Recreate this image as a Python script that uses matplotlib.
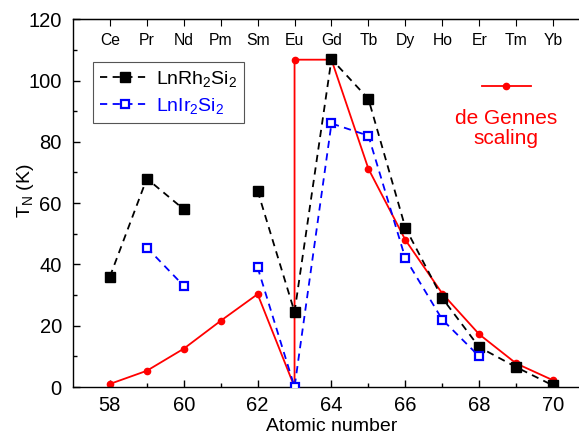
import numpy as np
import matplotlib
matplotlib.use("Agg")
import matplotlib.pyplot as plt

plt.rcParams['font.family'] = ['Liberation Sans', 'DejaVu Sans']
plt.rcParams['mathtext.fontset'] = 'custom'
plt.rcParams['mathtext.rm'] = 'Liberation Sans'
plt.rcParams['mathtext.it'] = 'Liberation Sans'

# atomic numbers and element symbols along the top
z = np.arange(58, 71)
elements = ['Ce', 'Pr', 'Nd', 'Pm', 'Sm', 'Eu', 'Gd', 'Tb', 'Dy', 'Ho', 'Er', 'Tm', 'Yb']

# Neel temperatures (K); nan where there is no compound
tn_rh = [36, 68, 58, np.nan, 64, 24.5, 107, 94, 52, 29, 13, 6.5, 0.5]
tn_ir = [np.nan, 45.5, 33, np.nan, 39, 0, 86, 82, 42, 22, 10, np.nan, np.nan]

# de Gennes scaling, Eu has two values (0 and the Gd-normalised one)
dg_z = [58, 59, 60, 61, 62, 63, 63, 64, 65, 66, 67, 68, 69, 70]
dg_t = [1.0, 5.3, 12.5, 21.6, 30.3, 0, 106.8, 106.8, 71.2, 48, 30.5, 17.2, 7.7, 2.2]

fig = plt.figure(figsize=(5.79, 4.41), dpi=100)
ax = fig.add_axes([0.126, 0.1224, 0.893, 0.834])

red_line, = ax.plot(dg_z, dg_t, '-', color='#ff0000', lw=1.3, marker='o',
                    ms=4.5, zorder=2)
rh_line, = ax.plot(z, tn_rh, '--', color='black', lw=1.3, marker='s', ms=7,
                   dashes=(4, 3), zorder=3, label='LnRh$_2$Si$_2$')
ir_line, = ax.plot(z, tn_ir, '--', color='#0000ff', lw=1.3, marker='s', ms=6,
                   mfc='white', mew=1.6, dashes=(4, 3), zorder=3,
                   label='LnIr$_2$Si$_2$')

ax.set_xlim(57, 71)
ax.set_ylim(0, 120)
ax.set_xticks(np.arange(58, 71, 2))
ax.set_xticks(np.arange(59, 71, 2), minor=True)
ax.set_yticks(np.arange(0, 121, 20))
ax.set_yticks(np.arange(10, 120, 20), minor=True)
ax.tick_params(which='both', direction='in', labelsize=14.5, width=1)
ax.tick_params(which='major', length=5)
ax.tick_params(which='minor', length=3)
ax.tick_params(axis='x', pad=6.5)
ax.tick_params(axis='y', pad=8)
for s in ax.spines.values():
    s.set_linewidth(1)

ax.set_xlabel('Atomic number', fontsize=14, labelpad=2)
ax.set_ylabel('T$_N$ (K)', fontsize=14)
ax.yaxis.set_label_coords(-0.072, 0.535)

# element symbols inside the top edge
top = ax.secondary_xaxis('top')
top.set_xticks(z)
top.set_xticklabels(elements)
top.tick_params(direction='in', length=5, pad=-21, labelsize=11.3)

leg = ax.legend(handles=[rh_line, ir_line], loc='upper left',
                bbox_to_anchor=(0.0387, 0.883), borderaxespad=0,
                fontsize=14, handlelength=2.6, handletextpad=0.3,
                borderpad=0.35, labelspacing=0.35,
                fancybox=False, edgecolor='#555555', framealpha=1)
leg.get_frame().set_linewidth(0.8)
for t, c in zip(leg.get_texts(), ['black', '#0000ff']):
    t.set_color(c)
ax.add_artist(leg)

ax.legend(handles=[red_line], labels=[''], loc='center',
          bbox_to_anchor=(0.8385, 0.815), borderaxespad=0, frameon=False,
          handlelength=3.5, handletextpad=0, fontsize=10)
ax.text(68.73, 84.3, 'de Gennes\nscaling', color='#ff0000', fontsize=15,
        ha='center', va='center', linespacing=1.1)

fig.savefig('out.png', dpi=100)
